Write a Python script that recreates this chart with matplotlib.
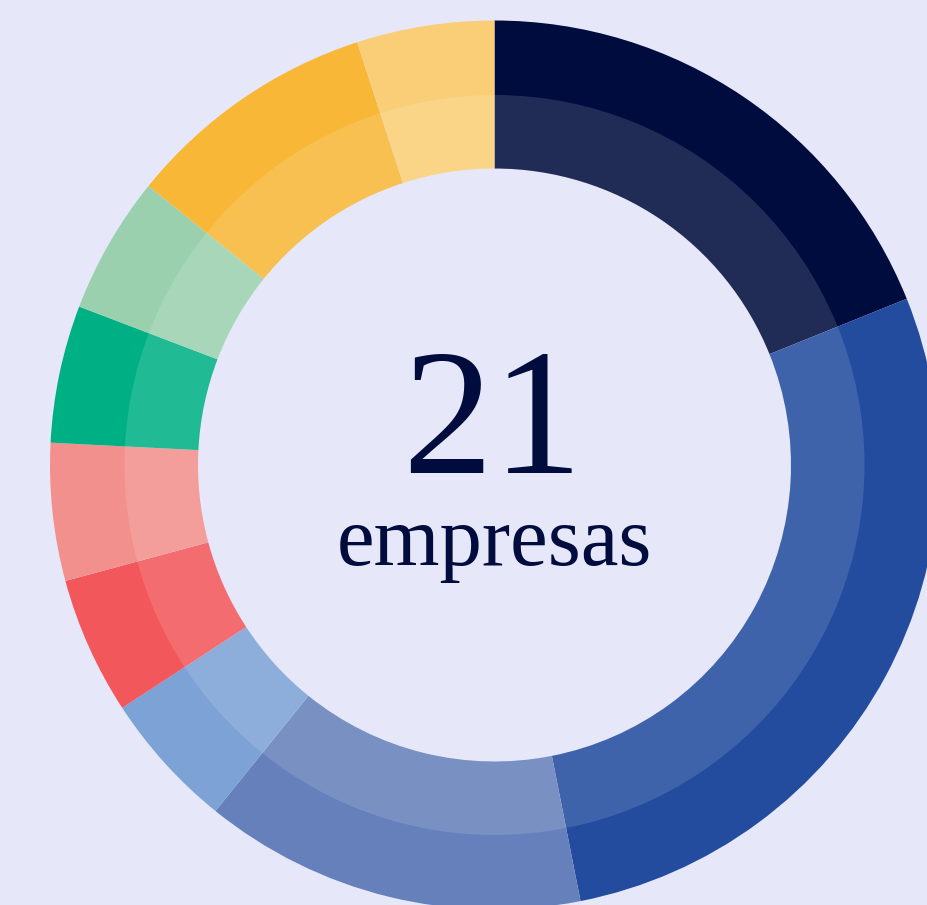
import matplotlib.pyplot as plt
from matplotlib.patches import Wedge

# share of each group (percent of the full ring), clockwise from 12 o'clock
shares = [18.9, 28.0, 13.9, 5.0, 5.0, 5.0, 5.0, 5.0, 9.2, 5.0]
colors = ['#000C3D', '#234C9F', '#6680BB', '#7DA2D5', '#F2585B',
          '#F2908D', '#00B085', '#9BD0AF', '#F8B737', '#FACE76']
big_number = '21'
caption = 'empresas'

bg = '#E6E8F9'
ink = '#000C3D'

W, H = 928, 905
fig = plt.figure(figsize=(W / 100, H / 100), dpi=100, facecolor=bg)
ax = fig.add_axes([0, 0, 1, 1])
ax.set_facecolor(bg)

cx, cy = 494.5, H - 465
r_out, r_in = 444.5, 296.5

ax.pie(shares, colors=colors, radius=r_out, center=(cx, cy), startangle=90,
       counterclock=False, frame=True,
       wedgeprops=dict(width=r_out - r_in, linewidth=0))
ax.set_xlim(0, W)
ax.set_ylim(0, H)
ax.set_aspect('equal')
ax.axis('off')

# lighter inner band
ax.add_patch(Wedge((cx, cy), 370, 0, 360, width=370 - r_in,
                   facecolor='white', alpha=0.13, linewidth=0))

ax.text(492, H - 473, big_number, ha='center', va='baseline',
        fontsize=130, family='Liberation Serif', color=ink)
ax.text(494, H - 565, caption, ha='center', va='baseline',
        fontsize=61, family='Liberation Serif', color=ink)

fig.savefig('out.png', dpi=100, facecolor=bg)
